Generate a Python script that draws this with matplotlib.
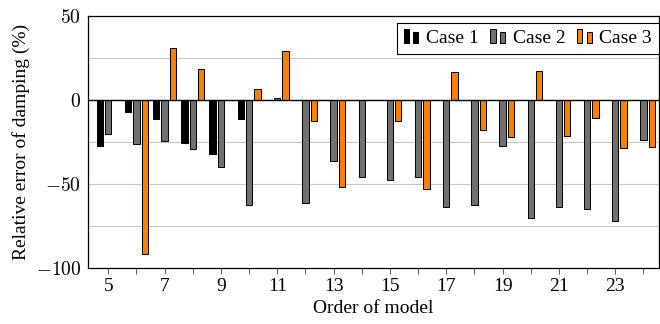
import matplotlib
matplotlib.use("Agg")
import matplotlib.pyplot as plt
import numpy as np
from matplotlib.patches import Rectangle
from matplotlib.legend_handler import HandlerBase
from matplotlib.ticker import FixedLocator, FuncFormatter

plt.rcParams['font.family'] = ['Liberation Serif', 'DejaVu Serif']
plt.rcParams['mathtext.fontset'] = 'cm'

orders = list(range(5, 25))
case1 = [-27.7, -7.3, -11.1, -25.7, -32.4, -11.1, 0, 0, 0, 0, 0, 0, 0, 0, 0, 0, 0, 0, 0, 0]
case2 = [-20.4, -26.1, -24.7, -29.4, -39.7, -62.5, 1.2, -61.5, -36.6, -45.8,
         -47.4, -45.8, -63.6, -62.6, -27.5, -70.4, -63.6, -64.8, -72.1, -23.9]
case3 = [0, -91.5, 31.0, 18.4, 0, 6.5, 29.0, -12.3, -52.0, 0,
         -12.5, -53.0, 16.6, -18.0, -22.1, 17.2, -21.3, -10.9, -28.9, -28.1]
labels = ['Case 1', 'Case 2', 'Case 3']
colors = ['#000000', '#707070', '#ff8000']

fig = plt.figure(figsize=(6.6, 3.24), dpi=100)
ax = fig.add_axes([0.1333, 0.173, 0.865, 0.778])

x = np.array(orders, dtype=float)
w = 0.225
off = 0.295
handles = []
for i, (vals, lab, col) in enumerate(zip([case1, case2, case3], labels, colors)):
    b = ax.bar(x + (i - 1) * off, vals, width=w, color=col, edgecolor='black',
               linewidth=0.7, label=lab, zorder=3)
    handles.append(b)

ax.axhline(0, color='black', linewidth=1.0, zorder=4)
ax.set_xlim(4.28, 24.55)
ax.set_ylim(-100, 50)

ax.yaxis.set_major_locator(FixedLocator([-100, -75, -50, -25, 0, 25, 50]))
def yfmt(v, pos):
    if int(round(v)) % 50 != 0:
        return ''
    return '$%d$' % int(round(v))
ax.yaxis.set_major_formatter(FuncFormatter(yfmt))
ax.grid(axis='y', color='#c8c8c8', linewidth=0.8, zorder=0)
ax.tick_params(axis='y', direction='in', length=0, labelsize=14, pad=5)

ax.set_xticks(orders)
ax.set_xticklabels([str(o) if o % 2 == 1 else '' for o in orders])
ax.tick_params(axis='x', direction='out', length=4.5, width=0.6, color='#444444',
               labelsize=14, pad=3)

for s in ax.spines.values():
    s.set_linewidth(0.9)

ax.set_xlabel('Order of model', fontsize=14, labelpad=3)
ax.set_ylabel('Relative error of damping (%)', fontsize=14, labelpad=4)


class TwoBarHandler(HandlerBase):
    def create_artists(self, legend, orig_handle, xdescent, ydescent, width,
                       height, fontsize, trans):
        patch = orig_handle.patches[0]
        fc = patch.get_facecolor()
        bw = width * 0.3
        r1 = Rectangle((-xdescent, -ydescent), bw, height * 1.05,
                       facecolor=fc, edgecolor='black', linewidth=0.7, transform=trans)
        r2 = Rectangle((-xdescent + width * 0.55, -ydescent), bw, height * 0.8,
                       facecolor=fc, edgecolor='black', linewidth=0.7, transform=trans)
        return [r1, r2]


leg = ax.legend(handles, labels, handler_map={type(handles[0]): TwoBarHandler()},
                loc='upper right', ncol=3, fontsize=14, frameon=True,
                fancybox=False, edgecolor='black', framealpha=1,
                handlelength=0.9, handletextpad=0.25, columnspacing=0.6,
                borderpad=0.35, bbox_to_anchor=(1.0, 0.972), borderaxespad=0)
leg.get_frame().set_linewidth(0.8)
leg.set_zorder(10)

fig.savefig('out.png', dpi=100)
